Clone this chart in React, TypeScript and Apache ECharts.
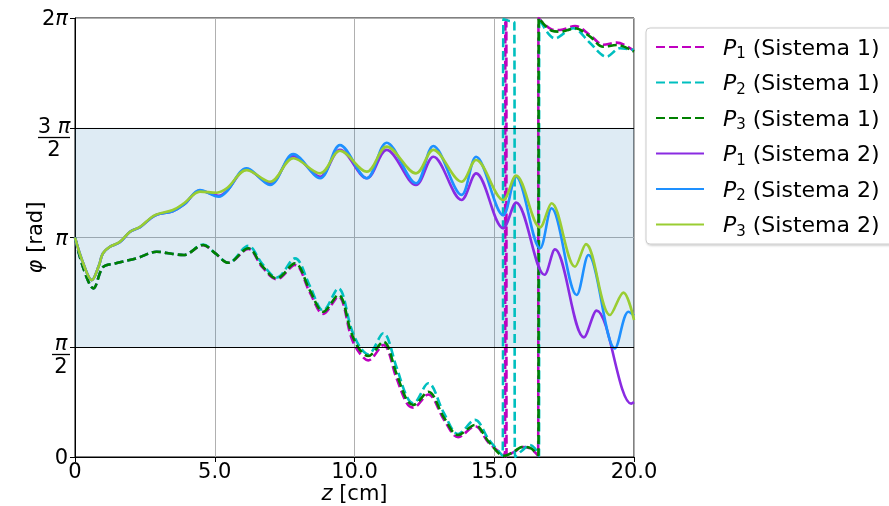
import React, { useEffect, useRef } from 'react';
import * as echarts from 'echarts';

// z [cm], phase in units of pi
const p1s1: [number, number][] = [[0,1.0],[0.3,0.86],[0.66,0.768],[1.0,0.865],[1.43,0.882],[2.2,0.905],[2.92,0.935],[3.5,0.925],[3.88,0.92],[4.59,0.965],[5.0,0.93],[5.49,0.885],[6.2,0.948],[6.7,0.865],[7.22,0.81],[7.87,0.875],[8.4,0.75],[8.88,0.652],[9.42,0.73],[9.9,0.54],[10.2,0.47],[10.49,0.44],[11.03,0.51],[11.5,0.36],[11.87,0.245],[12.1,0.225],[12.64,0.285],[13.2,0.17],[13.71,0.09],[14.31,0.14],[14.8,0.065],[15.38,0.003],[15.4,1.997],[15.43,1.997],[15.44,0.003],[15.7,0.022],[16.04,0.045],[16.3,0.038],[16.57,0.006],[16.585,2.0],[17.06,1.948],[17.35,1.945],[17.89,1.963],[18.43,1.922],[18.9,1.878],[19.38,1.888],[20,1.85]];
const p2s1: [number, number][] = [[0,1.0],[0.3,0.86],[0.66,0.768],[1.0,0.865],[1.43,0.882],[2.2,0.905],[2.92,0.935],[3.5,0.925],[3.88,0.92],[4.59,0.968],[5.0,0.93],[5.49,0.885],[6.2,0.962],[6.7,0.88],[7.22,0.818],[7.87,0.905],[8.4,0.78],[8.88,0.668],[9.42,0.768],[9.9,0.58],[10.2,0.5],[10.49,0.468],[11.03,0.564],[11.5,0.41],[11.87,0.275],[12.1,0.245],[12.64,0.336],[13.2,0.2],[13.71,0.105],[14.31,0.169],[14.8,0.08],[15.3,0.005],[15.33,1.995],[15.5,1.988],[15.72,1.978],[15.74,0.0],[16.0,0.03],[16.28,0.055],[16.45,0.04],[16.6,0.005],[16.61,2.0],[17.17,1.907],[17.83,1.953],[18.4,1.89],[19.02,1.824],[19.5,1.862],[20,1.854]];
const p3s1: [number, number][] = [[0,1.0],[0.3,0.86],[0.66,0.768],[1.0,0.865],[1.43,0.882],[2.2,0.905],[2.92,0.935],[3.5,0.925],[3.88,0.92],[4.59,0.966],[5.0,0.93],[5.49,0.885],[6.2,0.951],[6.7,0.87],[7.22,0.814],[7.87,0.882],[8.4,0.76],[8.88,0.662],[9.42,0.738],[9.9,0.56],[10.2,0.487],[10.49,0.46],[11.03,0.525],[11.5,0.38],[11.87,0.26],[12.1,0.237],[12.64,0.297],[13.2,0.18],[13.71,0.1],[14.31,0.146],[14.8,0.07],[15.36,0.005],[15.7,0.025],[16.04,0.047],[16.3,0.04],[16.58,0.008],[16.59,2.0],[17.06,1.942],[17.35,1.938],[17.89,1.953],[18.43,1.915],[18.9,1.869],[19.38,1.877],[20,1.847]];
const p1s2: [number, number][] = [[0,1.0],[0.3,0.88],[0.6,0.806],[0.85,0.87],[1.0,0.928],[1.25,0.958],[1.6,0.978],[1.97,1.026],[2.33,1.047],[2.86,1.1],[3.5,1.12],[3.9,1.15],[4.47,1.214],[5.15,1.19],[5.43,1.212],[6.14,1.31],[6.98,1.245],[7.81,1.372],[8.77,1.277],[9.48,1.4],[10.44,1.27],[11.15,1.399],[12.2,1.239],[12.82,1.368],[13.83,1.171],[14.35,1.292],[15.32,1.042],[15.78,1.159],[16.8,0.83],[17.17,0.946],[18.21,0.545],[18.66,0.667],[19.9,0.243],[20,0.25]];
const p2s2: [number, number][] = [[0,1.0],[0.3,0.88],[0.6,0.806],[0.85,0.87],[1.0,0.928],[1.25,0.958],[1.6,0.978],[1.97,1.026],[2.33,1.047],[2.86,1.1],[3.5,1.12],[3.9,1.15],[4.47,1.216],[5.15,1.186],[5.43,1.21],[6.14,1.315],[6.98,1.239],[7.81,1.38],[8.77,1.27],[9.48,1.421],[10.44,1.27],[11.15,1.432],[12.2,1.247],[12.82,1.417],[13.83,1.194],[14.35,1.368],[15.32,1.102],[15.78,1.277],[16.64,0.951],[17.05,1.133],[17.95,0.738],[18.37,0.92],[19.32,0.495],[19.8,0.662],[20,0.645]];
const p3s2: [number, number][] = [[0,1.0],[0.3,0.88],[0.6,0.806],[0.85,0.87],[1.0,0.928],[1.25,0.958],[1.6,0.98],[1.97,1.026],[2.33,1.049],[2.86,1.102],[3.5,1.125],[3.9,1.156],[4.47,1.209],[5.07,1.204],[5.43,1.224],[6.14,1.307],[6.98,1.254],[7.81,1.361],[8.77,1.292],[9.48,1.395],[10.44,1.3],[11.15,1.414],[12.2,1.292],[12.82,1.399],[13.83,1.254],[14.35,1.353],[15.32,1.171],[15.78,1.282],[16.64,1.046],[17.05,1.156],[17.89,0.867],[18.28,0.97],[19.14,0.647],[19.62,0.749],[20,0.624]];

const seriesNames = ['P1 (Sistema 1)', 'P2 (Sistema 1)', 'P3 (Sistema 1)', 'P1 (Sistema 2)', 'P2 (Sistema 2)', 'P3 (Sistema 2)'];
const seriesData = [p1s1, p2s1, p3s1, p1s2, p2s2, p3s2];
const seriesColors = ['#bf00bf', '#00bfbf', '#008000', '#8a2be2', '#1e90ff', '#9acd32'];
const seriesDashed = [true, true, true, false, false, false];

const xTickLabels: Record<string, string> = { '0': '0', '5': '5.0', '10': '10.0', '15': '15.0', '20': '20.0' };
// y ticks at k * pi/2; fractions drawn separately
const yTickLabels = ['0', '', '{i|π}', '', '2{i|π}'];
const fracLabels = [
  { value: 0.5, num: '{i|π}', barWidth: 18, offset: 7 },
  { value: 1.5, num: '3 {i|π}', barWidth: 32, offset: 9 },
];
const bandRange = [0.5, 1.5];

const FONT = 'DejaVu Sans';
const FS = 21;
const GRID = { left: 75, top: 18, width: 559, height: 439 };

export default function App() {
  const ref = useRef<HTMLDivElement>(null);
  useEffect(() => {
    if (!ref.current) return;
    const chart = echarts.init(ref.current, undefined, { renderer: 'svg' });
    const series: any[] = seriesData.map((d, i) => ({
      name: seriesNames[i],
      type: 'line',
      data: d.map(([z, v]) => [z, v * Math.PI]),
      showSymbol: false,
      symbol: 'none',
      smooth: 0.35,
      clip: true,
      lineStyle: { color: seriesColors[i], width: 2.6, type: seriesDashed[i] ? [9, 4] : 'solid' },
      itemStyle: { color: seriesColors[i] },
      z: 3,
    }));
    series.push({
      name: 'band',
      type: 'line',
      data: [],
      silent: true,
      z: 1,
      markArea: {
        silent: true,
        itemStyle: { color: 'rgba(31,119,180,0.15)' },
        data: [[{ yAxis: bandRange[0] * Math.PI }, { yAxis: bandRange[1] * Math.PI }]],
      },
      markLine: {
        silent: true,
        symbol: 'none',
        label: { show: false },
        lineStyle: { color: '#000', width: 1.2, type: 'solid' },
        data: [{ yAxis: bandRange[0] * Math.PI }, { yAxis: bandRange[1] * Math.PI }],
      },
    });
    const richI = { i: { fontFamily: FONT, fontSize: FS, fontStyle: 'italic', color: '#000' } };
    chart.setOption({
      animation: false,
      textStyle: { fontFamily: FONT },
      grid: { ...GRID, show: true, borderColor: '#000', borderWidth: 1, backgroundColor: 'transparent', containLabel: false, outerBoundsMode: 'none' },
      legend: {
        data: seriesNames,
        orient: 'vertical',
        left: 646,
        top: 28,
        itemWidth: 48,
        itemHeight: 14,
        itemGap: 11,
        padding: [8, 16, 6, 9],
        backgroundColor: '#fff',
        borderColor: '#cccccc',
        borderWidth: 1,
        borderRadius: 4,
        shadowColor: 'rgba(0,0,0,0.25)',
        shadowBlur: 2,
        shadowOffsetX: 1,
        shadowOffsetY: 1,
        itemStyle: { opacity: 0, color: 'transparent', borderWidth: 0 },
        formatter: (name: string) => {
          const m = name.match(/^P(\d) (.*)$/);
          if (!m) return name;
          return `{i|P}{s|${m[1]}}{t| ${m[2]}}`;
        },
        textStyle: {
          fontFamily: FONT,
          fontSize: 22,
          color: '#000',
          padding: [0, 0, 0, 14],
          rich: {
            i: { fontFamily: FONT, fontSize: 22, fontStyle: 'italic', lineHeight: 27, color: '#000' },
            s: { fontFamily: FONT, fontSize: 15, lineHeight: 15, verticalAlign: 'bottom', color: '#000' },
            t: { fontFamily: FONT, fontSize: 22, lineHeight: 27, color: '#000' },
          },
        },
      },
      xAxis: {
        type: 'value',
        min: 0,
        max: 20,
        interval: 5,
        name: '{i|z} [cm]',
        nameLocation: 'middle',
        nameMoveOverlap: false,
        nameGap: 25,
        nameTextStyle: {
          fontFamily: FONT, fontSize: FS, color: '#000', lineHeight: 22, verticalAlign: 'top',
          rich: { i: { fontFamily: FONT, fontSize: FS, fontStyle: 'italic', color: '#000', lineHeight: 22 } },
        },
        axisLine: { show: true, lineStyle: { color: '#000', width: 1 } },
        axisTick: { show: true, inside: false, length: 5, lineStyle: { color: '#000', width: 1 } },
        axisLabel: {
          fontFamily: FONT, fontSize: FS, color: '#000', margin: 3,
          formatter: (v: number) => xTickLabels[String(Math.round(v))] ?? String(v),
        },
        splitLine: { show: true, lineStyle: { color: '#b0b0b0', width: 1 } },
      },
      yAxis: {
        type: 'value',
        min: 0,
        max: 2 * Math.PI,
        interval: Math.PI / 2,
        name: '{i|φ} [rad]',
        nameLocation: 'middle',
        nameMoveOverlap: false,
        nameGap: 30,
        nameRotate: 90,
        nameTextStyle: { fontFamily: FONT, fontSize: FS, color: '#000', rich: richI },
        axisLine: { show: true, lineStyle: { color: '#000', width: 1 } },
        axisTick: { show: true, inside: false, length: 5, lineStyle: { color: '#000', width: 1 } },
        axisLabel: {
          fontFamily: FONT, fontSize: FS, color: '#000', margin: 7,
          formatter: (v: number) => yTickLabels[Math.round(v / (Math.PI / 2))] ?? '',
          rich: richI,
        },
        splitLine: { show: true, lineStyle: { color: '#b0b0b0', width: 1 } },
      },
      series,
    });

    // fraction tick labels (pi/2, 3pi/2), positioned from the axis scale
    const right = GRID.left - 5;
    const graphic: any[] = [];
    fracLabels.forEach((f) => {
      const py = chart.convertToPixel({ yAxisIndex: 0 }, f.value * Math.PI) as number;
      const yb = Math.round(py) + f.offset + 0.5;
      const cx = right - f.barWidth / 2;
      graphic.push({
        type: 'text', x: cx, y: yb - 1, silent: true,
        style: { text: f.num, fontFamily: FONT, fontSize: FS, fill: '#000', align: 'center', verticalAlign: 'bottom', rich: richI },
      });
      graphic.push({
        type: 'line', silent: true,
        shape: { x1: right - f.barWidth, y1: yb, x2: right, y2: yb },
        style: { stroke: '#000', lineWidth: 1.3 },
      });
      graphic.push({
        type: 'text', x: cx, y: yb + 1, silent: true,
        style: { text: '2', fontFamily: FONT, fontSize: FS, fill: '#000', align: 'center', verticalAlign: 'top' },
      });
    });
    chart.setOption({ graphic });
    return () => chart.dispose();
  }, []);
  return <div ref={ref} style={{ position: 'fixed', left: 0, top: 0, width: 889, height: 506 }} />;
}
